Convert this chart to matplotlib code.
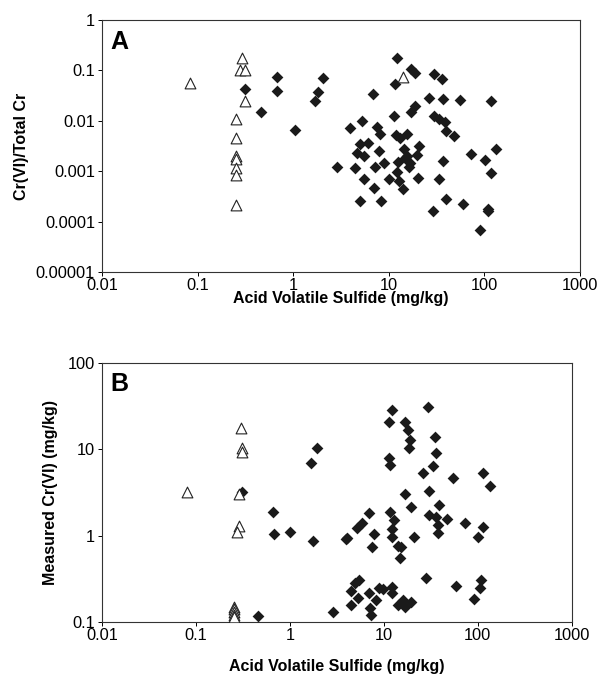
import numpy as np
import matplotlib.pyplot as plt
from matplotlib.ticker import FixedLocator, FuncFormatter, NullLocator

plt.rcParams['font.family'] = ['Liberation Sans', 'DejaVu Sans']

# panel A: Cr(VI)/Total Cr vs AVS
a_tri_x = [0.083, 0.29, 0.28, 0.315, 0.316, 0.254, 0.254, 0.254, 0.254, 0.254, 0.254, 0.254, 14.2]
a_tri_y = [0.057, 0.18, 0.10, 0.10, 0.025, 0.0108, 0.0045, 0.00196, 0.00177, 0.00114, 0.00083, 0.00021, 0.073]

a_dia_x = [0.315, 0.68, 0.68, 0.457, 1.04, 2.04, 1.82, 1.70, 2.89, 3.93,
           12.3, 16.9, 18.8, 29.7, 35.7, 11.5, 6.89, 26.3, 36.6, 55.6,
           116, 18.8, 17.1, 11.3, 30, 33.5, 38.7, 5.2, 7.47, 8.09,
           11.9, 13.1, 15.4, 39.6, 48.1, 5.0, 6.0, 4.61, 5.55, 7.9,
           14.4, 15.6, 20.8, 19.6, 4.43, 7.17, 8.9, 12.6, 16.7, 14.8,
           16.3, 37.2, 72.4, 102, 131, 116, 5.55, 10.05, 12.1, 12.8,
           14.2, 20.0, 33.5, 7.06, 5.0, 8.2, 39.4, 59.3, 29.2, 108,
           110, 90]
a_dia_y = [0.043, 0.074, 0.039, 0.0153, 0.0066, 0.071, 0.0375, 0.0249, 0.00124, 0.0073,
           0.174, 0.105, 0.0905, 0.084, 0.068, 0.054, 0.034, 0.028, 0.0269, 0.026,
           0.0252, 0.0198, 0.0153, 0.0122, 0.0122, 0.0108, 0.0094, 0.0097, 0.0075, 0.0055,
           0.0053, 0.0045, 0.0055, 0.0063, 0.005, 0.0035, 0.0037, 0.0023, 0.00197, 0.0025,
           0.00275, 0.00197, 0.0031, 0.0021, 0.00117, 0.00124, 0.00147, 0.00152, 0.00146, 0.00182,
           0.00121, 0.00157, 0.0022, 0.00169, 0.00275, 0.00092, 0.00071, 0.0007, 0.00095, 0.00063,
           0.00044, 0.00073, 0.0007, 0.00046, 0.00026, 0.00026, 0.00028, 0.000224, 0.00016, 0.000178,
           0.00016, 0.000067]

# panel B: measured Cr(VI) vs AVS
b_tri_x = [0.081, 0.30, 0.31, 0.31, 0.29, 0.29, 0.277, 0.254, 0.254, 0.254, 0.254, 0.254]
b_tri_y = [3.23, 17.8, 10.5, 9.4, 3.03, 1.29, 1.11, 0.15, 0.14, 0.13, 0.12, 0.115]

b_dia_x = [0.31, 1.95, 1.67, 0.66, 0.68, 1.0, 1.77, 3.94, 0.46, 2.85,
           12.1, 29.9, 11.3, 17.0, 18.3, 35.2, 19.1, 18.6, 36.0, 11.3,
           11.6, 33.4, 26.2, 54.6, 114, 134, 17.0, 30.1, 19.7, 38.7,
           6.93, 11.6, 12.9, 30.1, 36.3, 47.1, 72.7, 114, 101, 5.88,
           5.13, 7.88, 4.07, 7.5, 12.1, 12.1, 14.2, 15.4, 14.8, 20.8,
           37.8, 37.8, 28.5, 58.3, 109, 105, 90.6, 5.46, 4.91, 4.53,
           5.33, 4.53, 6.98, 7.1, 7.3, 8.9, 9.8, 12.1, 12.3, 8.36,
           14.2, 16.0, 16.7, 19.7]
b_dia_y = [3.23, 10.3, 7.0, 1.89, 1.06, 1.09, 0.87, 0.92, 0.117, 0.131,
           28.5, 30.7, 20.5, 20.9, 16.7, 13.9, 12.8, 10.5, 9.1, 7.9,
           6.6, 6.45, 5.36, 4.61, 5.36, 3.78, 3.03, 3.29, 2.13, 2.26,
           1.81, 1.89, 1.52, 1.73, 1.63, 1.56, 1.41, 1.27, 0.955, 1.41,
           1.22, 1.06, 0.93, 0.745, 1.18, 0.955, 0.76, 0.73, 0.546, 0.955,
           1.33, 1.08, 0.32, 0.26, 0.306, 0.245, 0.183, 0.31, 0.28, 0.23,
           0.188, 0.157, 0.214, 0.144, 0.12, 0.245, 0.24, 0.256, 0.214, 0.18,
           0.157, 0.18, 0.15, 0.171]

x_ticks = [0.01, 0.1, 1, 10, 100, 1000]
a_ticks = [0.00001, 0.0001, 0.001, 0.01, 0.1, 1]
b_ticks = [0.1, 1, 10, 100]

def fmt(v, pos):
    return np.format_float_positional(v, trim='-')

fig = plt.figure(figsize=(6.03, 6.76), dpi=100)
ax1 = fig.add_axes([0.169, 0.5976, 0.793, 0.3728])
ax2 = fig.add_axes([0.169, 0.0799, 0.779, 0.383])

def style(ax, yt, ylabel, letter, xpad, ypad, ly):
    ax.set_xscale('log')
    ax.set_yscale('log')
    ax.set_xlim(0.01, 1000)
    ax.set_ylim(yt[0], yt[-1])
    ax.xaxis.set_major_locator(FixedLocator(x_ticks))
    ax.yaxis.set_major_locator(FixedLocator(yt))
    ax.xaxis.set_minor_locator(NullLocator())
    ax.yaxis.set_minor_locator(NullLocator())
    ax.xaxis.set_major_formatter(FuncFormatter(fmt))
    ax.yaxis.set_major_formatter(FuncFormatter(fmt))
    ax.tick_params(labelsize=11.8, length=3, width=0.7, direction='out', pad=2)
    ax.tick_params(axis='x', pad=1)
    for s in ax.spines.values():
        s.set_linewidth(0.8)
        s.set_color('#333333')
    ax.set_xlabel('Acid Volatile Sulfide (mg/kg)', fontsize=11.5, fontweight='bold', labelpad=xpad)
    ax.set_ylabel(ylabel, fontsize=11.5, fontweight='bold', labelpad=ypad)
    ax.text(0.017, ly, letter, transform=ax.transAxes, fontsize=18, fontweight='bold', va='top')

ax1.scatter(a_dia_x, a_dia_y, marker='D', s=36, color='#1a1a1a', linewidths=0, zorder=3)
ax1.scatter(a_tri_x, a_tri_y, marker='^', s=60, facecolors='white', edgecolors='#222222', linewidths=0.8, zorder=4)
style(ax1, a_ticks, 'Cr(VI)/Total Cr', 'A', -1, 5, 0.96)

ax2.scatter(b_dia_x, b_dia_y, marker='D', s=36, color='#1a1a1a', linewidths=0, zorder=3)
ax2.scatter(b_tri_x, b_tri_y, marker='^', s=60, facecolors='white', edgecolors='#222222', linewidths=0.8, zorder=4)
style(ax2, b_ticks, 'Measured Cr(VI) (mg/kg)', 'B', 12, 7, 0.965)

fig.savefig('out.png', dpi=100)
